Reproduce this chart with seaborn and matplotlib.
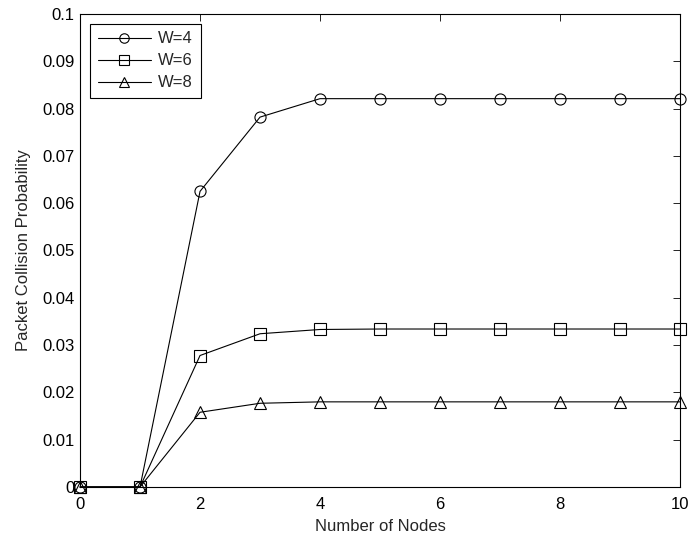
import matplotlib
matplotlib.use("Agg")
import matplotlib.pyplot as plt
import seaborn as sns
import pandas as pd

nodes = [0, 1, 2, 3, 4, 5, 6, 7, 8, 9, 10]
w4 = [0, 0, 0.0625, 0.0782, 0.0821, 0.0821, 0.0821, 0.0821, 0.0821, 0.0821, 0.0821]
w6 = [0, 0, 0.0278, 0.0324, 0.0333, 0.0334, 0.0334, 0.0334, 0.0334, 0.0334, 0.0334]
w8 = [0, 0, 0.0158, 0.0177, 0.0180, 0.0180, 0.0180, 0.0180, 0.0180, 0.0180, 0.0180]
labels = ["W=4", "W=6", "W=8"]

df = pd.concat([
    pd.DataFrame({"Nodes": nodes, "P": v, "W": lab})
    for v, lab in zip([w4, w6, w8], labels)
])

sns.set_theme(style="white")
plt.rcParams["font.family"] = ["Liberation Sans", "DejaVu Sans"]
plt.rcParams["font.size"] = 12

fig = plt.figure(figsize=(6.91, 5.38), dpi=100)
ax = fig.add_axes([0.1158, 0.0948, 0.8684, 0.8792])

sns.lineplot(data=df, x="Nodes", y="P", hue="W", style="W",
             markers={"W=4": "o", "W=6": "s", "W=8": "^"}, dashes=False,
             palette={"W=4": "black", "W=6": "black", "W=8": "black"},
             markerfacecolor="none", markeredgecolor="black", markeredgewidth=0.8,
             markersize=8, linewidth=0.8, ax=ax, legend=True)

ax.set_xlim(0, 10)
ax.set_ylim(0, 0.1)
ax.set_xticks([0, 2, 4, 6, 8, 10])
ax.set_yticks([0, 0.01, 0.02, 0.03, 0.04, 0.05, 0.06, 0.07, 0.08, 0.09, 0.1])
ax.set_yticklabels(["0", "0.01", "0.02", "0.03", "0.04", "0.05", "0.06", "0.07", "0.08", "0.09", "0.1"])
ax.set_xlabel("Number of Nodes", fontsize=12, labelpad=5)
ax.set_ylabel("Packet Collision Probability", fontsize=12, labelpad=8)
ax.tick_params(axis="x", pad=7)
ax.tick_params(axis="y", pad=4)
ax.tick_params(direction="in", length=5, width=0.6, top=True, right=True,
               labelsize=12, colors="black")
for s in ax.spines.values():
    s.set_color("black")
    s.set_linewidth(0.8)
for ln in ax.lines:
    ln.set_clip_on(False)

leg = ax.legend(loc="upper left", frameon=True, fancybox=False, handlelength=3.2,
                borderpad=0.45, labelspacing=0.42, handletextpad=0.45, fontsize=12,
                borderaxespad=0.6, markerscale=0.85)
leg.get_frame().set_edgecolor("black")
leg.get_frame().set_linewidth(0.8)
leg.get_frame().set_alpha(1)
for h in leg.legend_handles:
    h.set_markerfacecolor("none")
    h.set_markeredgecolor("black")
    h.set_color("black")
    h.set_linewidth(0.8)

fig.savefig("out.png", dpi=100)
